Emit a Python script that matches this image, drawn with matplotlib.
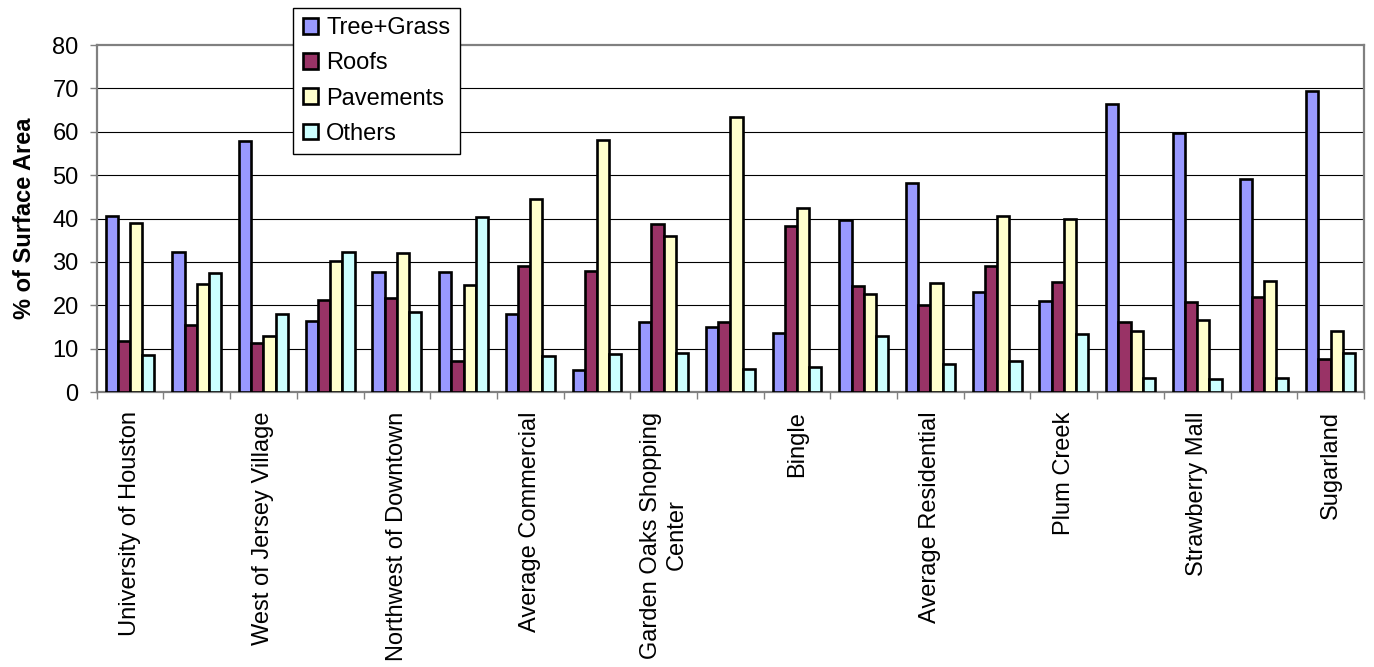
import numpy as np
import matplotlib
matplotlib.use("Agg")
import matplotlib.pyplot as plt

# Surface cover breakdown per site (percent of surface area)
categories = [
    "University of Houston", "", "West of Jersey Village", "",
    "Northwest of Downtown", "", "Average Commercial", "",
    "Garden Oaks Shopping\nCenter", "", "Bingle", "",
    "Average Residential", "", "Plum Creek", "",
    "Strawberry Mall", "", "Sugarland",
]
tree_grass = [40.6, 32.3, 57.9, 16.3, 27.7, 27.6, 17.9, 5.1, 16.1, 15.1,
              13.6, 39.7, 48.2, 23.1, 21.0, 66.3, 59.6, 49.2, 69.3]
roofs = [11.8, 15.4, 11.4, 21.1, 21.7, 7.1, 29.1, 27.9, 38.8, 16.1,
         38.3, 24.4, 20.1, 29.0, 25.4, 16.2, 20.7, 21.9, 7.6]
pavements = [38.9, 24.9, 12.8, 30.2, 32.0, 24.6, 44.5, 58.0, 36.0, 63.4,
             42.5, 22.7, 25.1, 40.6, 40.0, 14.1, 16.5, 25.6, 14.1]
others = [8.5, 27.4, 18.0, 32.3, 18.4, 40.4, 8.3, 8.7, 9.0, 5.3,
          5.7, 13.0, 6.5, 7.1, 13.4, 3.3, 3.1, 3.2, 9.1]

series_names = ["Tree+Grass", "Roofs", "Pavements", "Others"]
series_colors = ["#9999FF", "#993366", "#FFFFCC", "#CCFFFF"]
y_ticks = [0, 10, 20, 30, 40, 50, 60, 70, 80]

plt.rcParams["font.family"] = ["Liberation Sans", "DejaVu Sans"]
FS = 17

W, H = 1374, 667
fig = plt.figure(figsize=(W / 100, H / 100), dpi=100)
ax = fig.add_axes([96.7 / W, 1 - 392 / H, (1364 - 96.7) / W, (392 - 45) / H])

x = np.arange(len(categories))
bw = 0.183
all_series = [tree_grass, roofs, pavements, others]
for i, (vals, name, col) in enumerate(zip(all_series, series_names, series_colors)):
    ax.bar(x + (i - 1.5) * bw, vals, width=bw, color=col, edgecolor="black",
           linewidth=1.9, label=name, zorder=3)

ax.set_xlim(-0.5, len(categories) - 0.5)
ax.set_ylim(0, 80)
ax.set_yticks(y_ticks)
ax.set_yticklabels([str(v) for v in y_ticks], fontsize=FS)
ax.tick_params(axis="y", direction="out", length=5, width=1, color="#808080", pad=8)

# group separators as outward ticks, names at group centres
ax.set_xticks(np.arange(len(categories) + 1) - 0.5)
ax.set_xticklabels([])
ax.tick_params(axis="x", which="major", direction="out", length=5, width=1, color="#808080")
ax.set_xticks(x, minor=True)
ax.set_xticklabels(categories, minor=True, rotation=90, fontsize=FS,
                   va="top", ha="center", multialignment="center")
ax.tick_params(axis="x", which="minor", length=0, pad=14)

for v in y_ticks[1:-1]:
    ax.axhline(v, color="black", linewidth=0.8, zorder=1)

for side in ["left", "right", "top", "bottom"]:
    ax.spines[side].set_color("#808080")
    ax.spines[side].set_linewidth(1.6)

ax.set_ylabel("% of Surface Area", fontsize=FS, fontweight="bold", labelpad=12)

leg = fig.legend(loc="upper left", bbox_to_anchor=(293.3 / W, 1 - 7.7 / H),
                 fontsize=FS, frameon=True, fancybox=False, shadow=False,
                 handlelength=0.65, handleheight=0.65, handletextpad=0.35,
                 labelspacing=0.56, borderpad=0.4, borderaxespad=0)
leg.get_frame().set_edgecolor("black")
leg.get_frame().set_linewidth(1.0)
leg.get_frame().set_alpha(1)

fig.savefig("out.png", dpi=100, facecolor="white")
